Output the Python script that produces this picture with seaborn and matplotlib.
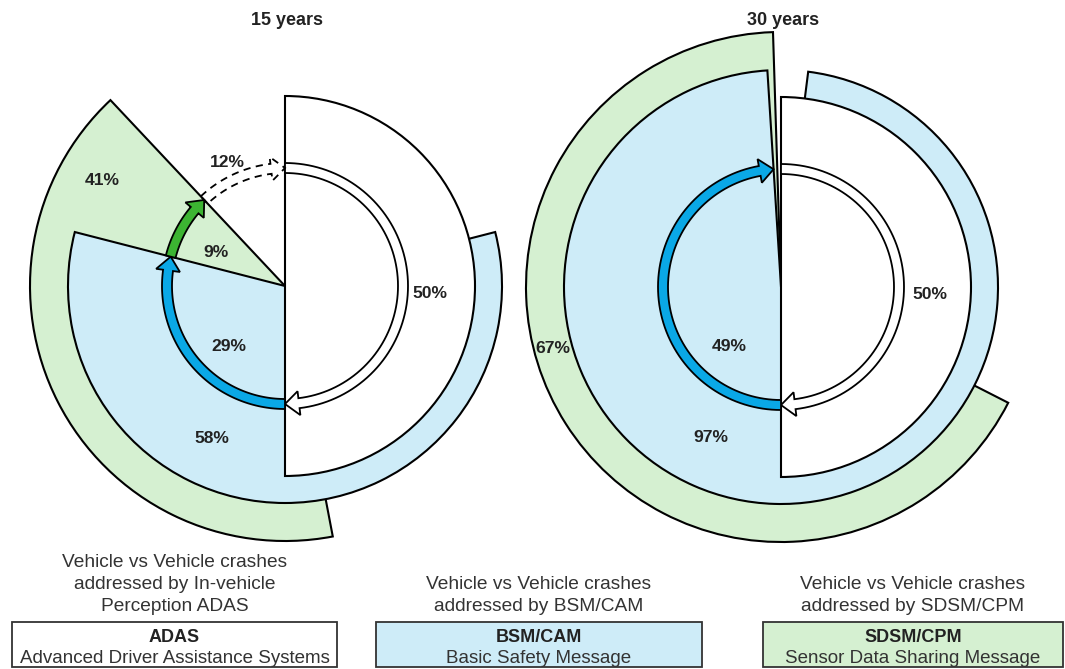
import numpy as np
import seaborn as sns
import matplotlib.pyplot as plt
from matplotlib.patches import Wedge, Polygon, Rectangle

# data (percent of vehicle vs vehicle crashes)
years = ["15 years", "30 years"]
adas_share = [50, 50]        # white half
bsm_share = [58, 97]         # blue wedge
sdsm_share = [41, 67]        # green wedge
bsm_gain = [29, 49]          # blue arrow beyond ADAS
sdsm_gain = [9, 0.5]         # green arrow beyond BSM/CAM
remainder = [12, 0.5]        # dashed arrow, not addressed

legend_names = ["ADAS", "BSM/CAM", "SDSM/CPM"]
legend_desc = ["Advanced Driver Assistance Systems", "Basic Safety Message",
               "Sensor Data Sharing Message"]
legend_caption = [["Vehicle vs Vehicle crashes", "addressed by In-vehicle", "Perception ADAS"],
                  ["Vehicle vs Vehicle crashes", "addressed by BSM/CAM"],
                  ["Vehicle vs Vehicle crashes", "addressed by SDSM/CPM"]]

# styling / layout
W, H = 1065, 669
C_WHITE, C_BLUE, C_GREEN = "white", "#CEECF8", "#D5F0D1"
A_BLUE, A_GREEN = "#0AA8E6", "#3CB432"
centers = [(285, 286), (781, 287)]
R_WHITE, R_BLUE, R_GREEN = 190, 217, 255
R_ARROW, ARROW_W = 118, 10
# label spots as (radius, compass angle)
label_pos = [
    {"adas": (145, 93), "bsm_gain": (83, 223), "sdsm_gain": (77, 296), "rest": (136, 335),
     "bsm": (169, 205.6), "sdsm": (211, 300)},
    {"adas": (149, 93), "bsm_gain": (79, 221), "bsm": (166, 205), "sdsm": (236, 255)},
]

sns.set_theme(style="white")
plt.rcParams["font.family"] = ["Liberation Sans", "DejaVu Sans"]

fig = plt.figure(figsize=(W / 100, H / 100), dpi=100)
ax = fig.add_axes([0, 0, 1, 1])
ax.set_xlim(0, W)
ax.set_ylim(0, H)
ax.axis("off")


def pt(cx, cy, r, a):
    # compass angle (clockwise from north), y measured downward from the top
    t = np.radians(a)
    return cx + r * np.sin(t), H - (cy - r * np.cos(t))


def wedge(cx, cy, r, a0, a1, color, z):
    ax.add_patch(Wedge((cx, H - cy), r, 90 - a1, 90 - a0, facecolor=color,
                       edgecolor="black", lw=1.5, zorder=z))


def arc_arrow(cx, cy, a0, a1, fc, ls="-"):
    hw = ARROW_W / 2
    head_hw, head_len = 12, 14
    body_end = a1 - np.degrees(head_len / R_ARROW)
    ang = np.linspace(a0, body_end, 80)
    outer = [pt(cx, cy, R_ARROW + hw, a) for a in ang]
    inner = [pt(cx, cy, R_ARROW - hw, a) for a in ang[::-1]]
    head = [pt(cx, cy, R_ARROW + head_hw, body_end), pt(cx, cy, R_ARROW, a1),
            pt(cx, cy, R_ARROW - head_hw, body_end)]
    ax.add_patch(Polygon(outer + head + inner, closed=True, facecolor=fc,
                         edgecolor="black", lw=1.3, ls=ls, zorder=5))


def label(cx, cy, key, txt, lp):
    r, a = lp[key]
    x, y = pt(cx, cy, r, a)
    ax.text(x, y, txt, ha="center", va="center", fontsize=12.6,
            fontweight="bold", color="#222222", zorder=6)


for i, (cx, cy) in enumerate(centers):
    adas_end = adas_share[i] * 3.6
    bsm_end = (adas_share[i] + bsm_gain[i]) * 3.6
    bsm_start = bsm_end - bsm_share[i] * 3.6
    sdsm_end = bsm_end + sdsm_gain[i] * 3.6
    sdsm_start = sdsm_end - sdsm_share[i] * 3.6

    wedge(cx, cy, R_GREEN, sdsm_start, sdsm_end, C_GREEN, 1)
    wedge(cx, cy, R_BLUE, bsm_start, bsm_end, C_BLUE, 2)
    wedge(cx, cy, R_WHITE, 0, adas_end, C_WHITE, 3)

    arc_arrow(cx, cy, 0, adas_end, "white")
    arc_arrow(cx, cy, adas_end, bsm_end, A_BLUE)
    if sdsm_gain[i] >= 1:
        arc_arrow(cx, cy, bsm_end, sdsm_end, A_GREEN)
    if remainder[i] >= 1:
        arc_arrow(cx, cy, sdsm_end, 360, "none", ls=(0, (4, 3)))

    lp = label_pos[i]
    label(cx, cy, "adas", f"{adas_share[i]}%", lp)
    label(cx, cy, "bsm_gain", f"{bsm_gain[i]}%", lp)
    label(cx, cy, "bsm", f"{bsm_share[i]}%", lp)
    label(cx, cy, "sdsm", f"{sdsm_share[i]}%", lp)
    if "sdsm_gain" in lp:
        label(cx, cy, "sdsm_gain", f"{sdsm_gain[i]}%", lp)
    if "rest" in lp:
        label(cx, cy, "rest", f"{remainder[i]}%", lp)

    ax.text(cx + 2, H - 25, years[i], ha="center", va="baseline", fontsize=13,
            fontweight="bold", color="#222222")

# legend boxes with captions
box_x = [(12, 337), (376, 702), (763, 1063)]
box_fill = [C_WHITE, C_BLUE, C_GREEN]
line_base = [611, 589, 567]
for (x0, x1), name, desc, cap, fc in zip(box_x, legend_names, legend_desc,
                                         legend_caption, box_fill):
    xc = (x0 + x1) / 2
    ax.add_patch(Rectangle((x0, H - 667), x1 - x0, 45, facecolor=fc,
                           edgecolor="#333333", lw=1.3))
    ax.text(xc, H - 642, name, ha="center", va="baseline", fontsize=13,
            fontweight="bold", color="#222222")
    ax.text(xc, H - 663, desc, ha="center", va="baseline", fontsize=13.5,
            color="#333333")
    for k, line in enumerate(cap[::-1]):
        ax.text(xc, H - line_base[k], line, ha="center", va="baseline",
                fontsize=13.8, color="#333333")

fig.savefig("out.png", dpi=100)
